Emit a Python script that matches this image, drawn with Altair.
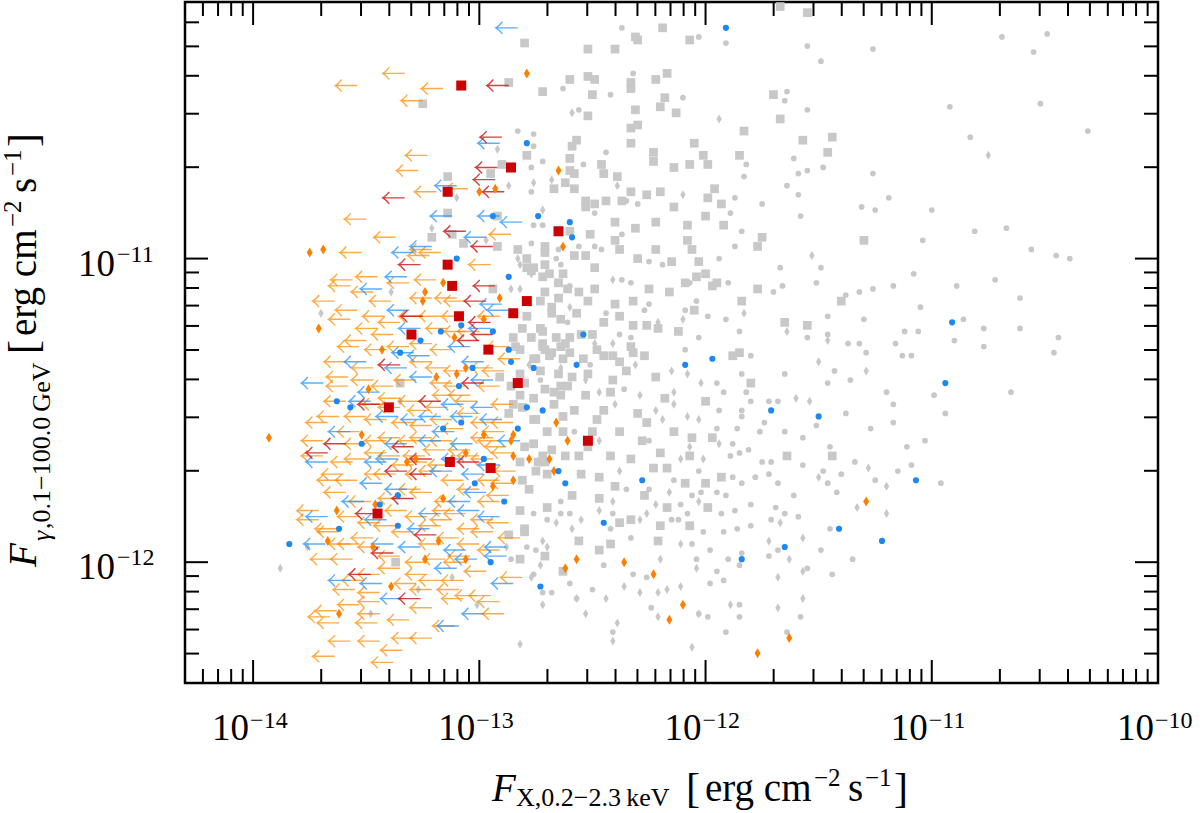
import altair as alt
import pandas as pd

W, H = 973, 681
FONT = "Liberation Serif"

# ---------------- data (log10 of fluxes: x = F_X 0.2-2.3 keV, y = F_gamma 0.1-100 GeV) -------------
gray_squares = [
    (-12.80,-10.29),(-12.52,-10.31),(-12.40,-10.31),(-12.19,-10.24),(-12.31,-10.27),(-12.30,-10.28),(-12.07,-10.28),(-11.55,-10.19),(-11.67,-10.17),
    (-12.60,-10.41),(-12.52,-10.40),(-12.49,-10.41),(-12.72,-10.45),(-12.33,-10.42),(-12.33,-10.44),(-12.22,-10.41),(-12.17,-10.39),(-12.50,-10.46),
    (-12.31,-10.51),(-12.20,-10.50),(-12.18,-10.47),(-12.13,-10.52),(-12.52,-10.53),(-11.70,-10.46),(-11.67,-10.54),(-11.83,-10.58),(-11.57,-10.61),
    (-11.44,-10.60),(-12.05,-10.62),(-12.33,-10.57),(-12.30,-10.56),(-12.33,-10.62),(-12.57,-10.61),(-12.59,-10.63),(-12.79,-10.66),(-12.60,-10.67),
    (-12.46,-10.69),(-12.39,-10.73),(-12.45,-10.72),(-12.60,-10.71),(-12.23,-10.65),(-12.23,-10.68),(-12.07,-10.69),(-12.01,-10.66),(-11.99,-10.69),
    (-11.85,-10.66),(-11.46,-10.65),(-12.14,-10.70),(-12.62,-10.75),(-12.67,-10.77),(-12.58,-10.77),(-12.33,-10.78),(-12.26,-10.79),(-12.20,-10.78),
    (-11.96,-10.77),(-11.99,-10.80),(-12.44,-10.81),(-12.37,-10.81),(-12.53,-10.81),(-12.53,-10.83),(-12.49,-10.82),(-12.14,-10.83),(-12.00,-10.86),
    (-11.93,-10.82),(-11.92,-10.89),(-12.40,-10.88),(-12.22,-10.88),(-12.60,-10.91),(-12.51,-10.92),(-12.40,-10.94),(-12.31,-10.90),(-12.08,-10.89),
    (-12.08,-10.94),(-12.06,-10.97),(-11.75,-10.93),(-11.77,-10.96),(-11.30,-10.94),(-12.71,-10.96),(-12.83,-10.97),(-12.58,-10.99),(-12.53,-10.99),
    (-12.71,-10.98),(-12.38,-10.97),(-12.30,-11.00),(-12.22,-10.97),(-12.15,-11.01),(-12.03,-11.01),(-12.79,-11.00),(-12.49,-11.03),(-12.63,-11.05),
    (-12.69,-11.05),(-12.77,-11.04),(-12.09,-11.08),(-12.04,-11.06),(-12.00,-11.05),(-11.97,-11.09),(-11.95,-11.08),(-11.77,-11.10),(-12.25,-11.10),
    (-12.16,-11.11),(-12.49,-11.10),(-12.56,-11.11),(-12.65,-11.13),(-12.71,-11.11),(-12.68,-11.16),(-12.57,-11.18),(-12.52,-11.14),(-12.40,-11.15),
    (-12.32,-11.14),(-12.38,-11.19),(-12.45,-11.21),(-12.32,-11.22),(-12.26,-11.22),(-12.21,-11.23),(-12.12,-11.24),(-12.05,-11.17),(-11.84,-11.14),
    (-11.65,-11.21),(-11.55,-11.22),(-11.40,-11.14),(-12.77,-11.26),(-12.66,-11.26),(-12.55,-11.25),(-12.50,-11.25),(-12.73,-11.23),(-12.72,-11.28),
    (-12.85,-11.26),(-12.87,-10.42),(-13.25,-10.49),(-12.90,-10.69),(-12.95,-10.72),(-13.14,-10.73),(-12.58,-10.72),(-13.14,-10.85),(-12.92,-10.86),
    (-13.21,-10.93),(-13.12,-10.92),(-13.07,-10.95),(-12.92,-10.96),(-12.71,-11.02),(-12.79,-11.03),(-12.76,-11.03),(-12.72,-11.06),(-12.65,-11.08),
    (-12.61,-11.10),(-12.73,-11.14),(-12.68,-11.18),(-12.79,-11.19),(-12.64,-11.20),(-12.81,-11.23),(-12.72,-11.24),(-12.60,-11.26),(-12.82,-11.30),
    (-12.72,-11.29),(-12.64,-11.29),(-12.76,-11.33),(-12.69,-11.32),(-12.63,-11.33),(-12.73,-11.37),(-12.65,-11.38),(-12.59,-11.39),(-12.91,-11.39),
    (-12.86,-11.42),(-12.67,-11.44),(-12.61,-11.42),(-12.76,-11.46),(-12.81,-11.49),(-12.70,-11.57),(-12.63,-11.57),(-12.76,-11.53),(-12.68,-11.63),
    (-12.76,-11.61),(-12.87,-11.51),(-12.72,-11.65),(-12.82,-11.67),(-12.94,-11.10),(-13.35,-11.41),(-12.74,-11.67),(-12.70,-11.71),(-12.81,-11.73),
    (-12.78,-11.76),(-12.70,-11.82),(-12.82,-11.83),(-12.80,-11.89),(-12.87,-11.91),(-12.63,-12.03),(-13.37,-12.00),(-12.33,-11.29),(-12.71,-11.30),
    (-12.68,-11.31),(-12.60,-11.31),(-12.54,-11.33),(-12.45,-11.32),(-12.41,-11.32),(-12.32,-11.31),(-12.52,-11.38),(-12.53,-11.45),(-12.42,-11.44),
    (-12.30,-11.51),(-12.26,-11.54),(-12.22,-11.39),(-12.18,-11.46),(-12.00,-11.47),(-11.88,-11.32),(-11.85,-11.31),(-11.80,-11.41),(-11.64,-11.65),
    (-11.44,-11.65),(-11.97,-11.59),(-12.06,-11.59),(-12.09,-11.74),(-12.00,-11.74),(-11.93,-11.72),(-11.99,-11.82),(-12.17,-11.82),(-12.17,-11.69),
    (-12.23,-11.69),(-12.33,-11.66),(-12.42,-11.65),(-12.47,-11.72),(-12.55,-11.71),(-12.59,-11.78),(-12.38,-11.87),(-12.33,-11.86),
    (-12.47,-11.96),(-12.21,-11.93),(-12.80,-11.90),(-12.85,-11.48),(-12.75,-11.53),(-12.80,-11.62),(-12.71,-11.67),(-12.62,-11.65),
    (-12.52,-11.62),(-12.50,-11.57),(-12.45,-11.50),(-12.67,-11.48),(-12.63,-11.52),(-12.82,-11.38),(-12.80,-11.41),(-12.71,-11.43),(-12.64,-11.42),
    (-12.41,-11.40),(-12.35,-11.37),
    (-12.84,-11.29),(-12.75,-11.33),(-12.62,-11.28),(-12.48,-11.30),(-12.38,-11.34),(-12.27,-11.32),(-12.64,-11.45),(-12.58,-11.50),(-12.48,-11.53),
    (-12.38,-11.57),(-12.28,-11.60),(-12.20,-11.64),(-12.14,-11.57),(-12.07,-11.65),(-12.82,-11.45),(-12.75,-11.70),(-12.56,-11.65),(-12.47,-11.79),
    (-12.40,-11.75),(-12.27,-11.78),(-12.20,-11.88),(-12.07,-11.88),(-12.56,-11.93),(-12.71,-11.98),(-12.82,-11.99),(-12.42,-11.94),
]

gray_circles = [
    (-12.37,-10.24),(-12.03,-10.27),(-11.91,-10.29),(-11.55,-10.30),(-11.49,-10.35),(-11.26,-10.31),(-10.69,-10.27),(-10.49,-10.26),(-10.55,-10.32),
    (-10.92,-10.50),(-10.52,-10.49),(-10.31,-10.58),(-10.83,-10.60),(-12.63,-10.44),(-12.42,-10.46),(-12.10,-10.47),(-11.64,-10.45),(-11.65,-10.48),
    (-11.55,-10.51),(-12.56,-10.51),(-12.32,-10.39),(-12.83,-10.58),(-12.76,-10.59),(-12.76,-10.63),(-12.72,-10.68),(-12.77,-10.70),(-12.77,-10.78),
    (-12.54,-10.69),(-12.44,-10.65),(-11.82,-10.69),(-11.83,-10.73),(-11.61,-10.67),(-11.59,-10.72),(-11.55,-10.71),(-11.48,-10.70),(-11.26,-10.72),
    (-11.64,-10.76),(-11.59,-10.79),(-11.58,-10.86),(-11.75,-10.82),(-11.87,-10.80),(-11.89,-10.85),(-11.84,-10.91),(-11.31,-10.83),(-11.25,-10.84),
    (-11.19,-10.80),(-11.00,-10.84),(-10.81,-10.91),(-10.67,-10.90),(-11.04,-10.94),(-10.56,-10.97),(-10.45,-10.99),(-10.39,-11.00),(-12.49,-10.85),
    (-12.35,-10.81),(-12.30,-10.82),(-12.37,-10.92),(-12.56,-10.96),(-12.49,-10.96),(-12.46,-10.97),(-12.65,-10.97),(-12.66,-11.00),(-12.64,-11.02),
    (-11.94,-11.00),(-11.87,-10.96),(-11.67,-11.03),(-11.49,-11.03),(-11.51,-11.08),(-11.38,-11.12),(-11.32,-11.11),(-11.26,-11.10),(-11.17,-11.09),
    (-11.08,-11.05),(-10.89,-11.09),(-10.72,-11.07),(-10.61,-11.13),(-10.86,-11.20),(-11.05,-11.16),(-10.77,-11.23),(-10.61,-11.23),(-10.44,-11.26),
    (-10.90,-11.27),(-11.16,-11.28),(-11.06,-11.24),(-11.12,-11.24),(-11.30,-11.20),(-11.46,-11.19),(-11.37,-11.28),(-11.32,-11.28),(-11.46,-11.25),
    (-11.55,-11.26),(-11.85,-11.24),(-11.91,-11.20),(-11.99,-11.19),(-12.03,-11.26),(-12.09,-11.17),(-12.04,-11.14),(-11.90,-11.08),(-11.66,-11.09),
    (-11.70,-11.11),(-12.19,-11.02),(-12.15,-11.01),(-12.25,-11.01),(-12.37,-11.07),(-12.33,-11.08),(-12.07,-11.08),(-12.25,-11.15),(-12.27,-11.17),
    (-12.44,-11.18),(-12.61,-11.21),(-12.38,-11.25),(-12.33,-11.26),(-12.60,-11.09),(-12.77,-10.95),(-12.76,-10.89),(-12.72,-10.89),
    (-12.09,-11.30),(-11.84,-11.38),(-11.80,-11.32),(-11.65,-11.38),(-11.46,-11.41),(-11.36,-11.40),(-11.43,-11.37),(-11.29,-11.31),(-11.13,-11.32),
    (-11.09,-11.32),(-10.77,-11.29),(-10.46,-11.31),(-10.65,-11.44),(-10.99,-11.45),(-10.94,-11.51),(-11.20,-11.44),(-11.17,-11.48),(-11.17,-11.54),
    (-11.27,-11.56),(-11.38,-11.51),(-11.51,-11.55),(-11.45,-11.62),(-11.34,-11.67),(-11.11,-11.62),(-11.03,-11.60),(-11.09,-11.68),(-11.15,-11.70),
    (-10.96,-11.74),(-11.25,-11.73),(-11.40,-11.71),(-11.48,-11.70),(-11.57,-11.68),(-11.65,-11.57),(-11.57,-11.59),(-11.74,-11.54),(-11.76,-11.57),
    (-11.86,-11.56),(-11.84,-11.52),(-11.80,-11.47),(-11.72,-11.47),(-11.68,-11.47),(-11.82,-11.44),(-11.95,-11.41),(-11.92,-11.44),(-11.94,-11.50),
    (-11.84,-11.50),(-11.95,-11.56),(-11.88,-11.61),(-11.81,-11.63),(-11.85,-11.64),(-11.71,-11.67),(-11.75,-11.67),(-11.78,-11.72),(-11.72,-11.71),
    (-11.68,-11.74),(-11.88,-11.72),(-11.84,-11.74),(-12.06,-11.78),(-12.02,-11.77),(-11.95,-11.77),(-11.91,-11.78),(-11.93,-11.84),(-11.87,-11.83),
    (-11.80,-11.81),(-11.69,-11.82),(-11.65,-11.84),(-11.59,-11.85),(-11.71,-11.86),(-11.61,-11.78),(-11.46,-11.74),(-11.42,-11.77),(-11.45,-11.89),
    (-11.49,-11.96),(-11.35,-11.99),(-11.44,-12.04),(-11.55,-12.02),(-11.68,-11.96),(-11.72,-11.98),(-11.84,-11.97),(-11.85,-12.01),(-11.90,-11.99),
    (-11.92,-11.90),(-11.86,-11.89),(-11.80,-11.88),(-12.01,-11.90),(-12.08,-11.84),(-12.15,-11.86),(-12.12,-11.86),(-12.11,-11.81),(-12.06,-11.94),
    (-12.04,-11.99),(-11.98,-11.96),(-11.95,-12.03),(-11.98,-12.07),(-11.92,-12.06),(-11.91,-12.23),(-11.85,-12.18),(-11.58,-12.18),(-11.64,-12.23),
    (-12.32,-12.04),(-12.26,-12.05),(-12.24,-12.15),(-12.50,-12.09),(-12.60,-12.07),(-12.68,-12.10),(-12.45,-12.01),(-12.33,-11.92),(-12.41,-11.84),
    (-12.35,-11.76),(-12.41,-12.23),(-12.03,-12.17),(-11.99,-12.18),(-11.85,-12.14),
    (-12.76,-11.84),(-12.70,-11.86),(-12.64,-11.84),(-12.60,-11.84),(-12.75,-11.96),(-12.79,-11.95),(-12.86,-11.99),(-12.72,-12.10),(-12.57,-12.12),
    (-12.76,-12.04),
    (-12.73,-11.40),(-12.51,-11.35),(-12.36,-11.43),(-12.25,-11.60),(-12.58,-11.57),(-12.64,-11.80),(-12.42,-11.89),(-12.14,-11.73),(-12.03,-11.70),
    (-11.89,-11.65),(-12.25,-11.76),
]

gray_diamonds = [
    (-12.59,-10.52),(-11.94,-10.54),(-10.75,-10.66),(-12.39,-10.76),(-12.10,-10.79),(-12.72,-10.84),(-11.53,-10.99),(-12.87,-10.76),(-12.76,-10.75),
    (-12.68,-10.74),(-12.83,-11.00),(-12.82,-11.02),(-12.77,-11.05),(-12.69,-11.05),(-12.82,-11.10),(-12.86,-11.10),(-12.66,-11.08),(-12.41,-11.07),
    (-12.60,-11.16),(-12.78,-11.19),(-12.49,-11.28),(-12.41,-11.28),(-12.21,-11.21),(-12.10,-11.20),(-11.83,-11.18),(-11.64,-11.24),(-11.46,-11.27),
    (-12.92,-10.64),(-13.10,-10.80),(-13.21,-10.90),(-12.97,-10.94),
    (-12.82,-12.27),(-12.53,-12.17),(-12.39,-12.20),(-12.41,-12.26),(-12.21,-12.18),(-12.17,-12.09),(-12.06,-12.28),(-12.03,-12.17),(-11.68,-12.15),
    (-11.57,-12.12),(-12.04,-12.02),(-12.11,-12.08),(-12.21,-12.10),(-12.29,-12.10),(-12.36,-12.08),(-12.44,-12.12),(-12.57,-12.12),(-12.72,-12.14),
    (-12.77,-12.05),(-12.72,-11.93),(-12.66,-11.87),(-12.55,-11.86),(-12.59,-11.89),(-12.47,-11.83),(-12.41,-11.80),(-12.26,-11.84),(-12.22,-11.81),
    (-12.16,-11.77),(-12.11,-11.66),(-12.08,-11.52),(-12.19,-11.53),(-12.14,-11.44),(-12.02,-11.41),(-11.72,-11.93),(-11.67,-11.87),(-11.63,-11.99),
    (-11.57,-11.92),(-11.54,-11.47),(-11.50,-11.34),(-11.29,-11.37),(-11.60,-11.46),(-11.50,-11.72),(-11.28,-11.69),(-11.20,-11.75),(-11.20,-11.84),
    (-11.33,-11.82),(-11.57,-12.03),(-11.68,-12.05),(-11.89,-12.14),(-12.31,-11.35),(-12.15,-11.37),(-12.08,-11.38),(-12.07,-11.62),(-12.01,-11.66),
    (-13.01,-12.14),(-12.70,-11.95),(-12.73,-12.01),(-12.88,-11.95),(-13.12,-12.05),(-13.27,-12.09),(-13.48,-12.17),(-13.88,-12.02),(-13.76,-11.95),
    (-13.70,-11.18),(-13.39,-11.11),(-13.35,-11.47),
    (-12.78,-11.35),(-12.64,-11.36),(-12.53,-11.40),(-12.47,-11.44),(-12.40,-11.48),(-12.29,-11.45),(-12.22,-11.50),(-12.14,-11.48),(-12.03,-11.53),
    (-11.94,-11.61),(-12.47,-11.60),(-12.38,-11.70),(-12.29,-11.86),(-12.20,-11.99),(-12.11,-11.94),(-12.03,-11.80),
]

orange_limits = [
    (-13.33,-10.39),(-13.54,-10.43),(-13.16,-10.44),(-13.25,-10.48),(-13.23,-10.66),(-13.27,-10.71),(-13.19,-10.78),(-13.05,-10.77),(-13.50,-10.87),
    (-12.86,-10.92),(-13.21,-10.97),(-13.17,-10.98),(-13.37,-10.93),(-13.52,-10.98),(-13.56,-11.07),(-13.57,-11.09),(-13.45,-11.06),(-13.31,-11.08),
    (-13.19,-11.07),(-13.47,-11.11),(-13.39,-11.14),(-13.21,-11.13),(-13.10,-11.13),(-13.06,-11.14),(-12.95,-11.02),(-13.57,-11.20),(-13.35,-11.21),
    (-13.26,-11.19),(-13.17,-11.19),(-13.07,-11.19),(-12.91,-11.19),(-13.45,-11.23),(-13.38,-11.25),(-13.50,-11.27),(-13.14,-11.23),(-13.06,-11.24),
    (-13.53,-11.29),(-13.41,-11.30),(-13.21,-11.28),(-13.12,-11.30),(-12.87,-11.29),(-13.59,-11.34),(-13.47,-11.36),(-13.21,-11.34),(-13.14,-11.36),
    (-13.06,-11.37),(-12.94,-11.36),(-12.82,-11.33),(-13.58,-11.39),(-13.58,-11.42),(-13.47,-11.40),(-13.38,-11.42),(-13.28,-11.40),(-13.12,-11.41),
    (-13.06,-11.42),(-12.91,-11.42),(-13.59,-11.47),(-13.35,-11.46),(-13.35,-11.49),(-13.26,-11.47),(-13.14,-11.49),(-13.01,-11.47),(-12.85,-11.48),
    (-13.67,-11.54),(-13.50,-11.52),(-13.41,-11.53),(-13.29,-11.54),(-13.21,-11.55),(-13.12,-11.53),(-13.07,-11.56),(-12.94,-11.54),(-12.85,-11.54),
    (-13.69,-11.60),(-13.50,-11.61),(-13.41,-11.60),(-13.35,-11.59),(-13.21,-11.59),(-13.12,-11.60),(-12.94,-11.59),(-12.88,-11.62),(-13.69,-11.65),
    (-13.50,-11.66),(-13.35,-11.65),(-13.29,-11.68),(-13.13,-11.68),(-12.94,-11.66),(-13.22,-10.99),(-13.56,-11.67),(-13.41,-11.64),(-13.23,-11.67),
    (-13.00,-11.65),(-12.85,-11.64),(-13.60,-11.71),(-13.54,-11.73),(-13.41,-11.71),(-13.23,-11.71),(-13.07,-11.73),(-12.91,-11.73),(-12.85,-11.74),
    (-13.59,-11.77),(-13.48,-11.80),(-13.35,-11.79),(-13.21,-11.77),(-13.10,-11.80),(-12.91,-11.80),(-13.71,-11.83),(-13.71,-11.86),(-13.63,-11.89),
    (-13.53,-11.85),(-13.44,-11.87),(-13.32,-11.83),(-13.23,-11.85),(-13.12,-11.86),(-13.06,-11.84),(-12.94,-11.86),(-12.87,-11.87),(-13.62,-11.90),
    (-13.47,-11.92),(-13.44,-11.95),(-13.29,-11.90),(-13.17,-11.94),(-13.09,-11.92),(-13.00,-11.94),(-12.94,-11.90),(-12.82,-11.92),(-13.65,-11.99),
    (-13.56,-11.99),(-13.44,-12.04),(-13.35,-11.98),(-13.35,-12.02),(-13.23,-12.00),(-13.06,-12.00),(-12.97,-12.03),(-13.44,-12.10),(-13.23,-12.04),
    (-13.21,-12.09),(-13.09,-12.09),(-13.07,-12.06),(-13.01,-12.11),(-12.81,-12.05),(-12.95,-12.11),(-13.63,-12.16),(-13.66,-12.18),(-13.62,-12.20),
    (-13.44,-12.17),(-13.45,-12.20),(-13.44,-12.13),(-13.21,-12.15),(-12.89,-12.17),(-13.07,-12.12),(-13.29,-12.25),(-13.21,-12.25),(-13.34,-12.29),
    (-13.64,-12.31),(-13.38,-12.33),
    (-13.11,-11.45),(-13.00,-11.51),(-13.22,-11.50),(-12.89,-11.57),(-13.04,-11.63),(-13.17,-11.70),(-12.84,-11.70),(-13.26,-11.76),(-13.00,-11.89),
    (-13.15,-11.99),(-12.91,-11.96),(-13.28,-12.07),(-13.55,-12.09),(-13.53,-11.94),(-13.04,-11.45),(-13.24,-11.65),(-13.42,-11.48),(-13.11,-11.83),
    (-12.87,-11.78),(-13.37,-11.71),
    (-13.64,-11.14),(-13.54,-11.17),(-13.42,-11.19),(-13.31,-11.29),(-13.00,-11.24),(-12.89,-11.37),(-13.62,-11.52),(-13.53,-11.57),(-13.15,-11.63),
    (-12.91,-11.60),(-13.62,-11.73),(-13.26,-11.60),(-13.00,-11.76),(-13.37,-11.88),(-13.17,-11.88),(-13.57,-11.94),(-13.04,-11.98),(-13.17,-12.06),
    (-13.53,-12.14),(-13.31,-12.19),(-13.57,-12.26),(-13.11,-12.21),(-13.44,-12.26),(-12.91,-12.13),(-13.51,-12.06),
]

blue_limits = [
    (-12.83,-10.24),(-12.91,-10.62),(-13.10,-10.76),(-13.12,-10.86),(-12.91,-10.86),(-12.81,-10.88),(-12.97,-10.93),(-13.21,-10.96),(-13.29,-10.98),
    (-13.32,-11.06),(-13.43,-11.10),(-12.90,-11.15),(-13.31,-11.17),(-12.87,-11.17),(-13.26,-11.23),(-12.95,-11.23),(-13.04,-11.29),(-13.29,-11.31),
    (-13.50,-11.34),(-13.32,-11.36),(-12.98,-11.34),(-13.69,-11.41),(-13.21,-11.39),(-12.94,-11.40),(-13.48,-11.47),(-13.44,-11.44),(-13.07,-11.48),
    (-12.94,-11.49),(-13.36,-11.52),(-13.25,-11.53),(-13.17,-11.52),(-13.03,-11.52),(-12.90,-11.53),(-13.32,-11.61),(-13.17,-11.60),(-13.03,-11.61),
    (-13.67,-11.67),(-13.41,-11.67),(-13.07,-11.66),(-12.91,-11.68),(-13.36,-11.66),(-13.43,-11.74),(-13.12,-11.70),(-12.98,-11.71),(-13.32,-11.76),
    (-13.04,-11.80),(-12.97,-11.77),(-13.67,-11.85),(-13.41,-11.86),(-13.17,-11.84),(-13.00,-11.83),(-12.91,-11.85),(-13.68,-11.94),(-13.38,-11.94),
    (-13.26,-11.95),(-13.06,-11.96),(-12.88,-11.95),(-13.10,-12.02),(-13.01,-11.99),(-12.88,-11.98),(-13.43,-12.07),(-13.34,-12.12),(-12.85,-12.07),
    (-12.98,-12.17),
    (-13.57,-11.57),(-13.22,-11.32),(-13.11,-11.57),(-13.57,-12.06),(-13.22,-11.89),(-13.09,-12.21),(-12.82,-11.60),(-13.51,-11.80),
]

red_limits = [
    (-12.87,-10.43),(-12.90,-10.60),(-12.92,-10.70),(-12.93,-10.74),(-12.89,-10.78),(-13.33,-10.80),(-13.06,-10.91),(-12.94,-10.96),(-13.26,-11.02),
    (-12.93,-11.09),(-12.97,-11.14),(-13.25,-11.19),(-12.95,-11.21),(-12.94,-11.25),(-13.00,-11.27),(-13.35,-11.35),(-12.98,-11.41),(-13.44,-11.48),
    (-13.17,-11.47),(-13.59,-11.61),(-13.29,-11.62),(-13.67,-11.64),(-13.21,-11.66),(-13.00,-11.67),(-13.32,-11.70),(-13.21,-11.71),(-13.29,-11.79),
    (-13.45,-11.84),(-13.19,-11.91),(-13.38,-11.97),(-13.48,-12.04),(-13.26,-12.12),
]

orange_diamonds = [
    (-12.79,-10.39),(-12.65,-10.71),(-13.00,-10.78),(-12.93,-10.77),(-12.63,-10.96),(-13.69,-10.97),(-13.75,-10.98),(-13.16,-11.08),(-13.24,-11.11),
    (-13.25,-11.14),(-12.91,-11.13),(-12.98,-11.20),(-13.71,-11.23),(-13.11,-11.26),(-13.43,-11.30),(-13.10,-11.38),(-13.19,-11.39),(-13.06,-11.36),
    (-13.93,-11.59),(-13.52,-11.58),(-13.49,-11.43),(-12.66,-11.54),(-12.61,-11.60),(-12.85,-11.58),(-12.86,-11.60),(-12.85,-11.65),(-12.78,-11.66),
    (-12.69,-11.66),(-12.67,-11.70),(-12.85,-11.73),(-12.98,-11.58),(-13.06,-11.64),(-13.12,-11.66),(-13.28,-11.66),(-13.63,-11.83),(-13.67,-11.93),
    (-13.62,-12.17),(-13.39,-12.08),(-13.24,-11.99),(-13.06,-11.99),(-13.16,-11.79),(-12.57,-11.99),(-12.62,-12.02),(-13.47,-11.95),(-13.32,-11.67),
    (-12.94,-11.75),(-13.18,-11.93),(-13.46,-11.81),(-11.29,-11.80),(-12.36,-12.00),(-12.23,-12.04),(-12.10,-12.14),(-12.16,-12.19),(-11.77,-12.30),
    (-11.63,-12.25),
]

blue_circles = [
    (-11.91,-10.24),(-12.79,-10.62),(-12.94,-10.86),(-12.74,-10.86),(-12.60,-10.88),(-12.59,-10.93),(-13.10,-11.00),(-12.87,-11.06),(-13.17,-11.24),
    (-13.26,-11.27),(-13.08,-11.22),(-12.94,-11.24),(-12.87,-11.30),(-12.86,-11.34),(-12.76,-11.36),(-12.57,-11.35),(-13.03,-11.36),(-13.35,-11.31),
    (-13.09,-11.42),(-13.63,-11.47),(-13.57,-11.49),(-13.52,-11.61),(-12.79,-11.49),(-12.72,-11.50),(-12.83,-11.56),(-13.16,-11.56),(-13.08,-11.54),
    (-12.98,-11.66),(-13.62,-11.89),(-13.44,-11.81),(-13.36,-11.88),(-12.95,-12.00),(-12.73,-12.08),(-12.89,-11.80),(-12.65,-11.70),(-12.62,-11.74),
    (-13.02,-11.74),(-13.36,-11.78),(-13.84,-11.94),(-12.54,-11.25),(-12.09,-11.35),(-11.97,-11.33),(-10.94,-11.41),(-10.91,-11.21),(-11.71,-11.50),
    (-11.50,-11.52),(-12.28,-11.73),(-11.07,-11.73),(-11.41,-11.89),(-11.22,-11.93),(-11.65,-11.95),(-11.84,-11.99),(-12.45,-11.87),
]

red_squares = [
    (-13.08,-10.43),(-12.86,-10.70),(-13.14,-10.78),(-12.65,-10.91),(-13.14,-11.02),(-13.12,-11.09),(-12.79,-11.14),(-12.85,-11.18),(-13.09,-11.19),
    (-13.30,-11.25),(-12.96,-11.30),(-12.83,-11.41),(-13.40,-11.49),(-12.52,-11.60),(-13.13,-11.67),(-12.95,-11.69),(-13.45,-11.84),
]

# axis ticks and labels
x_major_ticks = [1e-14, 1e-13, 1e-12, 1e-11, 1e-10]
x_minor_ticks = [6e-15, 7e-15, 8e-15, 9e-15,
                 2e-14, 3e-14, 4e-14, 5e-14, 6e-14, 7e-14, 8e-14, 9e-14,
                 2e-13, 3e-13, 4e-13, 5e-13, 6e-13, 7e-13, 8e-13, 9e-13,
                 2e-12, 3e-12, 4e-12, 5e-12, 6e-12, 7e-12, 8e-12, 9e-12,
                 2e-11, 3e-11, 4e-11, 5e-11, 6e-11, 7e-11, 8e-11, 9e-11]
y_major_ticks = [1e-12, 1e-11]
y_minor_ticks = [5e-13, 6e-13, 7e-13, 8e-13, 9e-13,
                 2e-12, 3e-12, 4e-12, 5e-12, 6e-12, 7e-12, 8e-12, 9e-12,
                 2e-11, 3e-11, 4e-11, 5e-11, 6e-11]
x_label_values = [1e-14, 1e-13, 1e-12, 1e-11, 1e-10]
x_label_exponents = ["\u221214", "\u221213", "\u221212", "\u221211", "\u221210"]
y_label_values = [1e-12, 1e-11]
y_label_exponents = ["\u221212", "\u221211"]

# ---------------- chart ----------------
xscale = alt.Scale(type="log", domain=[5e-15, 1e-10], nice=False)
yscale = alt.Scale(type="log", domain=[4e-13, 7e-11], nice=False)
X = alt.X("fx:Q", scale=xscale, axis=None)
Y = alt.Y("fg:Q", scale=yscale, axis=None)

ARROW = "M0,0L-2,0M-1.4,-0.55Q-1.72,-0.14,-2,0Q-1.72,0.14,-1.4,0.55"
DIAMOND = "M0,-1L0.6,0L0,1L-0.6,0Z"


def pts(pairs):
    return pd.DataFrame({"fx": [10 ** a for a, b in pairs], "fg": [10 ** b for a, b in pairs]})


def filled(pairs, shape, size, color):
    return alt.Chart(pts(pairs)).mark_point(
        shape=shape, size=size, filled=True, color=color, opacity=1, strokeWidth=0, clip=True
    ).encode(x=X, y=Y)


def arrows(pairs, color, opacity):
    return alt.Chart(pts(pairs)).mark_point(
        shape=ARROW, size=484, filled=False, color=color, strokeWidth=1.4, opacity=opacity, clip=True
    ).encode(x=X, y=Y)


GRAY = "#c8c8c8"
layers = [
    filled(gray_squares, "square", 76, GRAY),
    filled(gray_circles, "circle", 33, GRAY),
    filled(gray_diamonds, DIAMOND, 81, GRAY),
    arrows(orange_limits, "#ff8c00", 0.72),
    arrows(blue_limits, "#1e90ff", 0.72),
    arrows(red_limits, "#cc1111", 0.8),
    filled(orange_diamonds, DIAMOND, 100, "#ff8000"),
    filled(blue_circles, "circle", 38, "#1e88f0"),
    filled(red_squares, "square", 100, "#cc0000"),
]


def xticks(vals, length, top):
    c = alt.Chart(pd.DataFrame({"v": vals})).mark_rule(color="black", strokeWidth=2)
    xe = alt.X("v:Q", scale=xscale, axis=None)
    if top:
        return c.encode(x=xe, y=alt.value(0), y2=alt.value(length))
    return c.encode(x=xe, y=alt.value(H), y2=alt.value(H - length))


def yticks(vals, length, right):
    c = alt.Chart(pd.DataFrame({"v": vals})).mark_rule(color="black", strokeWidth=2)
    ye = alt.Y("v:Q", scale=yscale, axis=None)
    if right:
        return c.encode(y=ye, x=alt.value(W), x2=alt.value(W - length))
    return c.encode(y=ye, x=alt.value(0), x2=alt.value(length))


for top in (False, True):
    layers.append(xticks(x_major_ticks, 23, top))
    layers.append(xticks(x_minor_ticks, 14, top))
for right in (False, True):
    layers.append(yticks(y_major_ticks, 23, right))
    layers.append(yticks(y_minor_ticks, 14, right))

xl = pd.DataFrame({"v": x_label_values, "base": ["10"] * len(x_label_values), "exp": x_label_exponents})
layers.append(alt.Chart(xl).mark_text(font=FONT, fontSize=37, align="right", baseline="alphabetic", dx=-4, color="black")
              .encode(x=alt.X("v:Q", scale=xscale, axis=None), y=alt.value(738), text="base:N"))
layers.append(alt.Chart(xl).mark_text(font=FONT, fontSize=24, align="left", baseline="alphabetic", dx=-3, color="black")
              .encode(x=alt.X("v:Q", scale=xscale, axis=None), y=alt.value(726), text="exp:N"))

yl = pd.DataFrame({"v": y_label_values, "base": ["10"] * len(y_label_values), "exp": y_label_exponents})
layers.append(alt.Chart(yl).mark_text(font=FONT, fontSize=37, align="right", baseline="alphabetic", dy=17, color="black")
              .encode(y=alt.Y("v:Q", scale=yscale, axis=None), x=alt.value(-70), text="base:N"))
layers.append(alt.Chart(yl).mark_text(font=FONT, fontSize=24, align="left", baseline="alphabetic", dy=3, color="black")
              .encode(y=alt.Y("v:Q", scale=yscale, axis=None), x=alt.value(-68), text="exp:N"))

# axis titles built from pieces (text, x, y, size, italic, angle)
title_pieces = [
    ("F", 307, 799, 39, True, 0),
    ("X,0.2\u22122.3\u2009keV", 331, 804, 26, False, 0),
    ("[", 501, 800, 42, False, 0),
    ("erg cm", 520, 799, 39, False, 0),
    ("\u22122", 629, 784, 25, False, 0),
    ("s", 663, 799, 39, False, 0),
    ("\u22121", 680, 784, 25, False, 0),
    ("]", 709, 800, 42, False, 0),
    ("F", -149, 565, 39, True, 270),
    ("\u03b3", -135, 539, 26, True, 270),
    (",0.1\u2212100.0\u2009GeV", -135, 527, 26, False, 270),
    ("[", -148, 352, 42, False, 270),
    ("erg cm", -149, 334, 39, False, 270),
    ("\u22122", -164, 225, 25, False, 270),
    ("s", -149, 191, 39, False, 270),
    ("\u22121", -164, 174, 25, False, 270),
    ("]", -148, 145, 42, False, 270),
]
for txt, px, py, fs, it, ang in title_pieces:
    kw = dict(font=FONT, fontSize=fs, align="left", baseline="alphabetic", color="black")
    if it:
        kw["fontStyle"] = "italic"
    if ang:
        kw["angle"] = ang
    layers.append(alt.Chart(pd.DataFrame({"t": [txt]})).mark_text(**kw)
                  .encode(x=alt.value(px), y=alt.value(py), text="t:N"))

chart = alt.layer(*layers).properties(
    width=W, height=H,
    padding={"left": 185, "top": 2, "right": 42, "bottom": 130},
    autosize=alt.AutoSizeParams(type="none"),
    background="white",
).configure_view(stroke="black", strokeWidth=2.5)

chart.save("out.html", embed_options={"renderer": "svg", "actions": False})
